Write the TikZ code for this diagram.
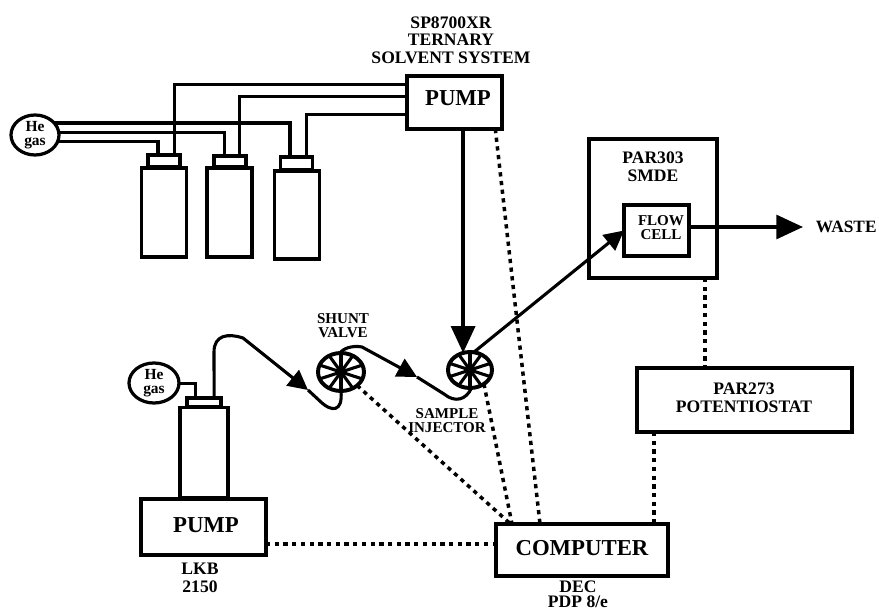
\documentclass[tikz,border=0pt]{standalone}
\usepackage{fontspec}
\setmainfont{Liberation Serif}
\usetikzlibrary{arrows.meta, shapes.geometric}
\def\px{0.25mm}
\tikzset{
  unitbox/.style={rectangle, draw, line width=2.2pt, outer sep=0pt, inner sep=0pt},
  gasbubble/.style={ellipse, draw, line width=2.3pt, outer sep=0pt, inner sep=0pt, font=\fontsize{11}{9.5}\selectfont\bfseries, align=center},
  wheel/.style={ellipse, draw, line width=2.8pt, outer sep=0pt, inner sep=0pt},
  spoke/.style={line width=2.2pt},
  tube/.style={line width=2.2pt},
  sigline/.style={line width=2.5pt, dash pattern=on 3pt off 3.2pt},
  biglab/.style={font=\fontsize{16.2}{18}\selectfont\bfseries, align=center},
  lab/.style={font=\fontsize{12.5}{12.5}\selectfont\bfseries, align=center},
  smalllab/.style={font=\fontsize{10.7}{10}\selectfont\bfseries, align=center},
  bighead/.style={-{Triangle[length=19pt, width=17pt]}},
  midhead/.style={-{Triangle[length=14pt, width=14pt]}}
}
\begin{document}
\begin{tikzpicture}[x=0.25mm, y=-0.25mm]
\useasboundingbox (0,0) rectangle (879,611);
% solvent bottles: name, bottle centre, cap centre
\foreach \id/\bx/\by/\cx/\cy/\bh/\ch in {
  A/164/212.5/164/161/89/12,
  B/229.5/212.5/230/161.5/89/11,
  C/297/215/296.5/163.5/88/13
} {
  \node[unitbox, minimum width=45*\px, minimum height=\bh*\px] (bottle\id) at (\bx,\by) {};
  \node[unitbox, minimum width=32*\px, minimum height=\ch*\px] (cap\id) at (\cx,\cy) {};
}
\node[gasbubble, minimum width=48*\px, minimum height=40*\px] (heA) at (35,135) {He\\gas};
\node[unitbox, minimum width=95*\px, minimum height=53*\px] (pumpA) at (454.5,102.5) {};
\node[biglab] (pumpAtext) at (458,98) {PUMP};
\node[lab] (ternary) at (451,40) {SP8700XR\\TERNARY\\SOLVENT SYSTEM};
% gas and solvent lines
\draw[tube] (heA.32) -| (capC.135);
\draw[tube] (heA.7) -| (capB.135);
\draw[tube] (heA.-15) -| (capA.135);
\draw[tube] (pumpA.159) -| (capA.30);
\draw[tube] (pumpA.173) -| (capB.30);
\draw[tube] (pumpA.194) -| (capC.32);
% lower pump
\node[gasbubble, minimum width=50*\px, minimum height=40*\px] (heB) at (154,383) {He\\gas};
\node[unitbox, minimum width=34*\px, minimum height=9*\px] (capD) at (204,402.5) {};
\node[unitbox, minimum width=48*\px, minimum height=90*\px] (bottleD) at (204,452.5) {};
\node[unitbox, minimum width=125*\px, minimum height=56*\px] (pumpB) at (203.5,527) {};
\node[biglab] (pumpBtext) at (206,525) {PUMP};
\node[lab] (lkb) at (200,578) {LKB\\2150};
\draw[tube] (heB.-2) -| (capD.153);
% valves
\node[wheel, minimum width=46*\px, minimum height=38*\px] (shunt) at (341,372) {};
\node[wheel, minimum width=44*\px, minimum height=36*\px] (injector) at (470,370) {};
\foreach \w in {shunt,injector} {
  \foreach \a in {18,54,...,342} {
    \draw[spoke] (\w.center) -- (\w.\a);
  }
}
\node[smalllab] (shuntlab) at (343,326) {SHUNT\\VALVE};
\node[smalllab] (samplelab) at (447,421) {SAMPLE\\INJECTOR};
% tubing with arrows
\coordinate (tipA) at (308,390);
\coordinate (tipB) at (417,377);
\draw[tube, midhead] (capD.24) -- (214,352) .. controls (214,335) and (228,333) .. (243,338) -- (tipA);
\draw[tube] (tipA) -- (322,403) .. controls (331,411) and (343,413) .. (shunt.270);
\draw[tube, midhead] (shunt.92) .. controls (342,349) and (352,345) .. (362,347) -- (tipB);
\draw[tube] (tipB) -- (444,394) .. controls (455,403) and (466,400) .. (injector.275);
% detector
\node[unitbox, minimum width=128*\px, minimum height=139*\px] (smde) at (653,208.5) {};
\node[lab] (smdelab) at (653,167) {PAR303\\SMDE};
\node[unitbox, minimum width=65*\px, minimum height=51*\px] (cell) at (656.5,230.5) {};
\node[smalllab] (celllab) at (661,228) {FLOW\\CELL};
\node[font=\fontsize{12.3}{15}\selectfont\bfseries, anchor=west] (waste) at (811,227) {WASTE};
\coordinate (wasteend) at (803,227);
\draw[line width=2.4pt, bighead] (pumpA.south -| injector.112) -- (injector.112);
\draw[line width=2.2pt, midhead] (injector.78) -- (cell.west);
\draw[line width=2.4pt, bighead] (cell.east |- wasteend) -- (wasteend);
% computer and potentiostat
\node[unitbox, minimum width=172*\px, minimum height=52*\px] (computer) at (582,550) {};
\node[biglab] (computertext) at (582,548) {COMPUTER};
\node[font=\fontsize{12.5}{11}\selectfont\bfseries, align=center] (dec) at (578,594) {DEC\\PDP 8/e};
\node[unitbox, minimum width=215*\px, minimum height=64*\px] (potentio) at (744.5,400) {};
\node[lab] (potentiotext) at (744,398) {PAR273\\POTENTIOSTAT};
% signal lines
\draw[sigline] (pumpA.-33) -- (computer.north -| 540,0);
\draw[sigline] (injector.-45) -- (computer.north -| 512,0);
\draw[sigline] (shunt.-40) -- (computer.160);
\draw[sigline] (pumpB.-15) -- (computer.west |- pumpB.-15);
\draw[sigline] (smde.south -| 705,0) -- (potentio.north -| 705,0);
\draw[sigline] (potentio.south -| 654,0) -- (computer.north -| 654,0);
\end{tikzpicture}
\end{document}
